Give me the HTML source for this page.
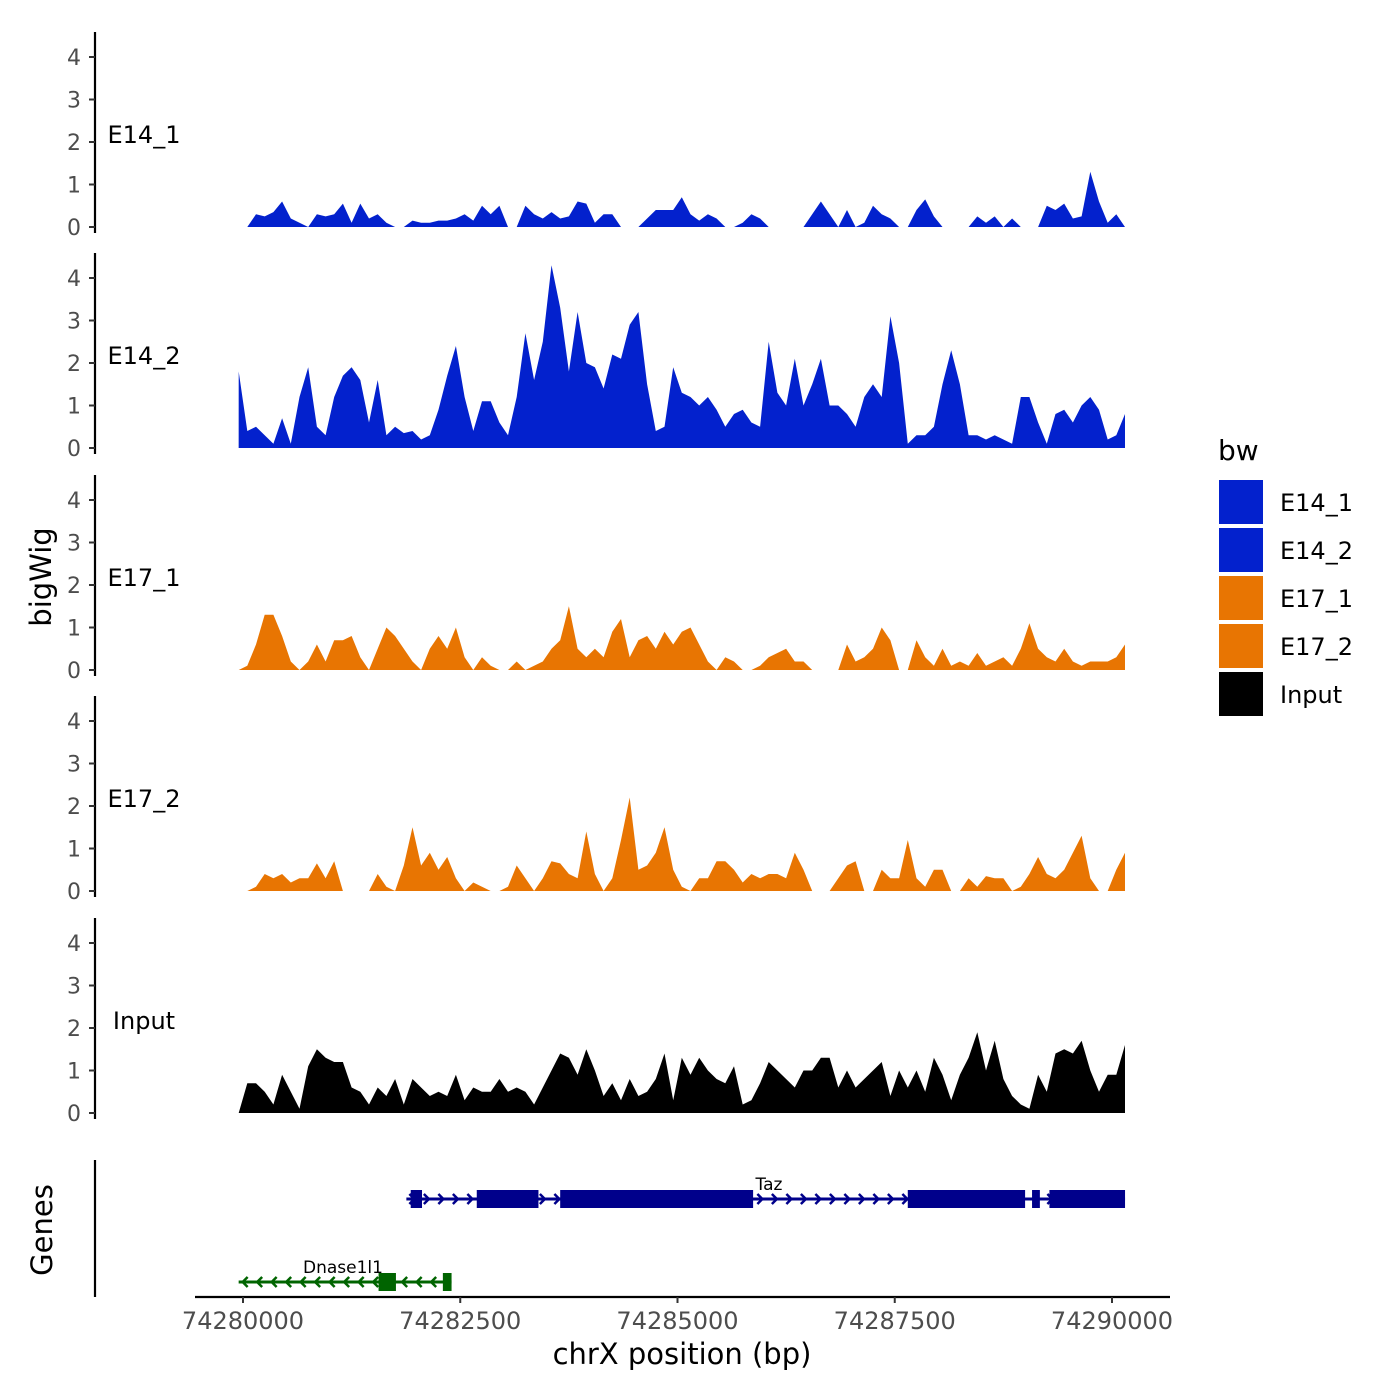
<!DOCTYPE html>
<html><head><meta charset="utf-8"><style>body{margin:0;background:#fff}svg{display:block;font-family:"DejaVu Sans","Liberation Sans",sans-serif}</style></head>
<body>
<svg id="chart" width="1400" height="1400" viewBox="0 0 1400 1400" xmlns="http://www.w3.org/2000/svg">
<g id="tracks"></g>
<g id="genes"></g>
<g id="axes"></g>
<text x="51" y="577" transform="rotate(-90 51 577)" font-size="29" text-anchor="middle">bigWig</text>
<text x="52" y="1230" transform="rotate(-90 52 1230)" font-size="29" text-anchor="middle">Genes</text>
<text x="682" y="1364" font-size="29" text-anchor="middle">chrX position (bp)</text>
<g id="legend"></g>
</svg>
<script>
const trackNames = ["E14_1","E14_2","E17_1","E17_2","Input"];
const gridStart = 74279950;
const gridStep = 100;
const e14_1 = [0,0,0.3,0.25,0.35,0.6,0.2,0.1,0,0.3,0.25,0.3,0.55,0.1,0.55,0.2,0.3,0.1,0,0,0.15,0.1,0.1,0.15,0.15,0.2,0.3,0.15,0.5,0.3,0.5,0,0,0.5,0.3,0.2,0.35,0.2,0.25,0.6,0.55,0.1,0.3,0.3,0,0,0,0.2,0.4,0.4,0.4,0.7,0.3,0.15,0.3,0.2,0,0,0.1,0.3,0.2,0,0,0,0,0,0.3,0.6,0.3,0,0.4,0,0.1,0.5,0.3,0.2,0,0,0.4,0.65,0.25,0,0,0,0,0.25,0.1,0.25,0,0.2,0,0,0,0.5,0.4,0.55,0.2,0.25,1.3,0.6,0.1,0.3,0];
const e14_2 = [1.8,0.4,0.5,0.3,0.1,0.7,0.1,1.2,1.9,0.5,0.3,1.2,1.7,1.9,1.6,0.6,1.6,0.3,0.5,0.35,0.4,0.2,0.3,0.9,1.7,2.4,1.2,0.4,1.1,1.1,0.6,0.3,1.2,2.7,1.6,2.5,4.3,3.3,1.8,3.2,2.0,1.9,1.4,2.2,2.1,2.9,3.2,1.5,0.4,0.5,1.9,1.3,1.2,1.0,1.2,0.9,0.5,0.8,0.9,0.6,0.5,2.5,1.3,1.0,2.1,1.0,1.5,2.1,1.0,1.0,0.8,0.5,1.2,1.5,1.2,3.1,2.0,0.1,0.3,0.3,0.5,1.5,2.3,1.5,0.3,0.3,0.2,0.3,0.2,0.1,1.2,1.2,0.6,0.1,0.8,0.9,0.6,1.0,1.2,0.9,0.2,0.3,0.8];
const e17_1 = [0,0.1,0.6,1.3,1.3,0.8,0.2,0,0.2,0.6,0.2,0.7,0.7,0.8,0.3,0,0.5,1.0,0.8,0.5,0.2,0,0.5,0.8,0.5,1.0,0.3,0,0.3,0.1,0,0,0.2,0,0.1,0.2,0.5,0.7,1.5,0.5,0.3,0.5,0.3,0.9,1.2,0.3,0.7,0.8,0.5,0.9,0.6,0.9,1.0,0.6,0.2,0,0.3,0.2,0,0,0.1,0.3,0.4,0.5,0.2,0.2,0,0,0,0,0.6,0.2,0.3,0.5,1.0,0.7,0,0,0.7,0.3,0.1,0.5,0.1,0.2,0.1,0.4,0.1,0.2,0.3,0.1,0.5,1.1,0.5,0.3,0.2,0.5,0.2,0.1,0.2,0.2,0.2,0.3,0.6];
const e17_2 = [0,0,0.1,0.4,0.3,0.4,0.2,0.3,0.3,0.65,0.3,0.7,0,0,0,0,0.4,0.1,0,0.6,1.5,0.6,0.9,0.5,0.8,0.3,0,0.2,0.1,0,0,0.1,0.6,0.3,0,0.3,0.7,0.65,0.4,0.3,1.4,0.4,0,0.3,1.2,2.2,0.5,0.6,0.9,1.5,0.5,0.1,0,0.3,0.3,0.7,0.7,0.5,0.2,0.4,0.3,0.4,0.4,0.3,0.9,0.5,0,0,0,0.3,0.6,0.7,0,0,0.5,0.3,0.3,1.2,0.3,0.1,0.5,0.5,0,0,0.3,0.1,0.35,0.3,0.3,0,0.1,0.4,0.8,0.4,0.3,0.5,0.9,1.3,0.3,0,0,0.5,0.9];
const input = [0,0.7,0.7,0.5,0.2,0.9,0.5,0.1,1.1,1.5,1.3,1.2,1.2,0.6,0.5,0.2,0.6,0.4,0.8,0.2,0.8,0.6,0.4,0.5,0.4,0.9,0.3,0.6,0.5,0.5,0.8,0.5,0.6,0.5,0.2,0.6,1.0,1.4,1.3,0.9,1.5,1.0,0.4,0.7,0.3,0.8,0.4,0.5,0.8,1.4,0.3,1.3,0.9,1.3,1.0,0.8,0.7,1.1,0.2,0.3,0.7,1.2,1.0,0.8,0.6,1.0,1.0,1.3,1.3,0.6,1.0,0.6,0.8,1.0,1.2,0.4,1.0,0.6,1.0,0.5,1.3,0.9,0.3,0.9,1.3,1.9,1.0,1.7,0.8,0.4,0.2,0.1,0.9,0.5,1.4,1.5,1.4,1.7,1.0,0.5,0.9,0.9,1.6];
const trackValues = [e14_1,e14_2,e17_1,e17_2,input];
const trackColors = ["#0321cd","#0321cd","#e87502","#e87502","#000000"];
const yTicks = [0,1,2,3,4];
const xTicks = [74280000,74282500,74285000,74287500,74290000];
const tazExons = [[74281930,74282060],[74282690,74283400],[74283650,74285870],[74287650,74289000],[74289080,74289170],[74289280,74290150]];
const tazSpan = [74281880,74290150];
const dnaseExons = [[74281560,74281760],[74282300,74282400]];
const dnaseSpan = [74279950,74282400];

const NS="http://www.w3.org/2000/svg";
function mk(tag,attrs,parent){const e=document.createElementNS(NS,tag);for(const k in attrs)e.setAttribute(k,attrs[k]);parent.appendChild(e);return e;}
const xScale = bp => 243 + (bp-74280000)*0.08690;
const panelBase = [227,448,670,891,1113];
const yScale = (p,v) => panelBase[p] - v*42.5;
const tracksG=document.getElementById('tracks'), axesG=document.getElementById('axes');
trackValues.forEach((vals,p)=>{
  let d=`M${xScale(gridStart)} ${yScale(p,0)}`;
  vals.forEach((v,i)=>{d+=` L${xScale(gridStart+i*gridStep).toFixed(1)} ${yScale(p,v).toFixed(1)}`;});
  d+=` L${xScale(gridStart+(vals.length-1)*gridStep).toFixed(1)} ${yScale(p,0)} Z`;
  const a=mk('path',{d:d,fill:trackColors[p]},tracksG);
  
  
  const ax=mk('line',{x1:95,x2:95,y1:panelBase[p]-195,y2:panelBase[p]+6,stroke:'#000','stroke-width':2.2},axesG);
  
  
  yTicks.forEach(t=>{
    const y=yScale(p,t);
    mk('line',{x1:89,x2:95,y1:y,y2:y,stroke:'#333','stroke-width':2},axesG);
    const tx=mk('text',{x:81,y:y+8,'font-size':22,fill:'#4d4d4d','text-anchor':'end'},axesG);
    tx.textContent=t;
    
    
  });
  const lb=mk('text',{x:144,y:panelBase[p]-84,'font-size':24,'text-anchor':'middle'},axesG);
  lb.textContent=trackNames[p];
  
  
});
let ga=mk('line',{x1:95,x2:95,y1:1160,y2:1297,stroke:'#000','stroke-width':2.2},axesG);


let xa=mk('line',{x1:195,x2:1170,y1:1297,y2:1297,stroke:'#000','stroke-width':2.2},axesG);


xTicks.forEach(t=>{
  const x=xScale(t);
  mk('line',{x1:x,x2:x,y1:1297,y2:1303,stroke:'#333','stroke-width':2},axesG);
  const tx=mk('text',{x:x,y:1329,'font-size':24,fill:'#4d4d4d','text-anchor':'middle'},axesG);
  tx.textContent=t;
  
  
});
const genesG=document.getElementById('genes');
function gene(span,exons,y,color,dir,name,lx){
  const x1=xScale(span[0]),x2=xScale(span[1]);
  mk('line',{x1:x1,x2:x2,y1:y,y2:y,stroke:color,'stroke-width':3},genesG);
  for(let x=x1+6;x<x2-4;x+=14.5){
    const d=dir>0?`M${x-3} ${y-5} L${x+2} ${y} L${x-3} ${y+5}`:`M${x+3} ${y-5} L${x-2} ${y} L${x+3} ${y+5}`;
    mk('path',{d:d,stroke:color,'stroke-width':2.5,fill:'none'},genesG);
  }
  exons.forEach(e=>{
    const r=mk('rect',{x:xScale(e[0]),y:y-9,width:xScale(e[1])-xScale(e[0]),height:18,fill:color},genesG);
    
    
  });
  const t=mk('text',{x:lx,y:y-9,'font-size':17,'text-anchor':'middle'},genesG);
  t.textContent=name;
  
  
}
gene(tazSpan,tazExons,1199,'#00008b',1,'Taz',769);
gene(dnaseSpan,dnaseExons,1282,'#006400',-1,'Dnase1l1',343);
const lg=document.getElementById('legend');
const bt=mk('text',{x:1218,y:460,'font-size':28},lg);bt.textContent='bw';


trackNames.forEach((n,i)=>{
  const y=480+i*48;
  const r=mk('rect',{x:1219,y:y,width:44,height:44,fill:trackColors[i]},lg);
  
  
  const t=mk('text',{x:1280,y:y+31,'font-size':24},lg);t.textContent=n;
  
  
});
</script>
</body></html>
